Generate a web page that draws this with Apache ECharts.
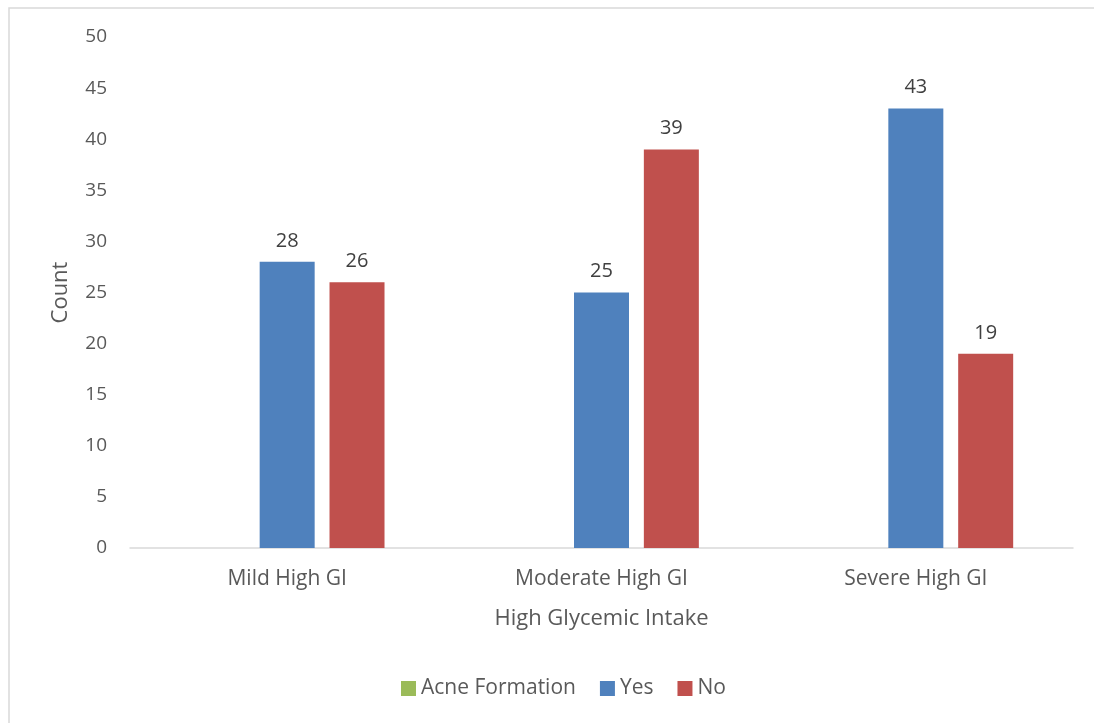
<!DOCTYPE html>
<html>
<head>
<meta charset="utf-8">
<script src="https://cdn.jsdelivr.net/npm/echarts@6/dist/echarts.min.js"></script>
<style>
  html, body { margin: 0; padding: 0; background: #fff; }
  #chart { width: 1094px; height: 723px; }
</style>
</head>
<body>
<div id="chart"></div>
<script>
// Categories and counts per group
const categories = ['Mild High GI', 'Moderate High GI', 'Severe High GI'];
const acneFormation = [null, null, null];
const yesCounts = [28, 25, 43];
const noCounts = [26, 39, 19];
const seriesNames = ['Acne Formation', 'Yes', 'No'];

const FONT = '"Open Sans", "Noto Sans", sans-serif';
const TEXT = '#595959';

const chart = echarts.init(document.getElementById('chart'), null, { renderer: 'canvas' });

const barLabel = {
  show: true,
  position: 'top',
  distance: 11,
  color: '#404040',
  fontSize: 20,
  fontFamily: FONT
};

chart.setOption({
  animation: false,
  backgroundColor: '#ffffff',
  graphic: [{
    type: 'rect',
    shape: { x: 9, y: 8, width: 1300, height: 900 },
    style: { fill: 'none', stroke: '#d9d9d9', lineWidth: 1.5 },
    silent: true
  }],
  grid: { left: 130, right: 21, top: 37, bottom: 175, containLabel: false },
  legend: {
    data: seriesNames,
    bottom: 19,
    left: 396,
    itemWidth: 15,
    itemHeight: 15,
    itemGap: 24,
    icon: 'rect',
    textStyle: { color: TEXT, fontSize: 21, fontFamily: FONT }
  },
  xAxis: {
    type: 'category',
    data: categories,
    name: 'High Glycemic Intake',
    nameLocation: 'middle',
    nameGap: 60,
    nameTextStyle: { color: TEXT, fontSize: 22, fontFamily: FONT },
    axisLine: { lineStyle: { color: '#d9d9d9', width: 1.5 } },
    axisTick: { show: false },
    axisLabel: { color: TEXT, fontSize: 21, fontFamily: FONT, margin: 21 }
  },
  yAxis: {
    type: 'value',
    min: 0,
    max: 50,
    interval: 5,
    name: 'Count',
    nameLocation: 'middle',
    nameRotate: 90,
    nameGap: 58,
    nameTextStyle: { color: TEXT, fontSize: 22, fontFamily: FONT },
    axisLine: { show: false },
    axisTick: { show: false },
    splitLine: { show: false },
    axisLabel: { color: TEXT, fontSize: 19, fontFamily: FONT, margin: 23 }
  },
  series: [
    {
      name: seriesNames[0], type: 'bar', data: acneFormation,
      barWidth: 55, barGap: '27%',
      itemStyle: { color: '#9BBB59' }, label: barLabel
    },
    {
      name: seriesNames[1], type: 'bar', data: yesCounts,
      barWidth: 55, barGap: '27%',
      itemStyle: { color: '#4F81BD' }, label: barLabel
    },
    {
      name: seriesNames[2], type: 'bar', data: noCounts,
      barWidth: 55, barGap: '27%',
      itemStyle: { color: '#C0504D' }, label: barLabel
    }
  ]
});
</script>
</body>
</html>
